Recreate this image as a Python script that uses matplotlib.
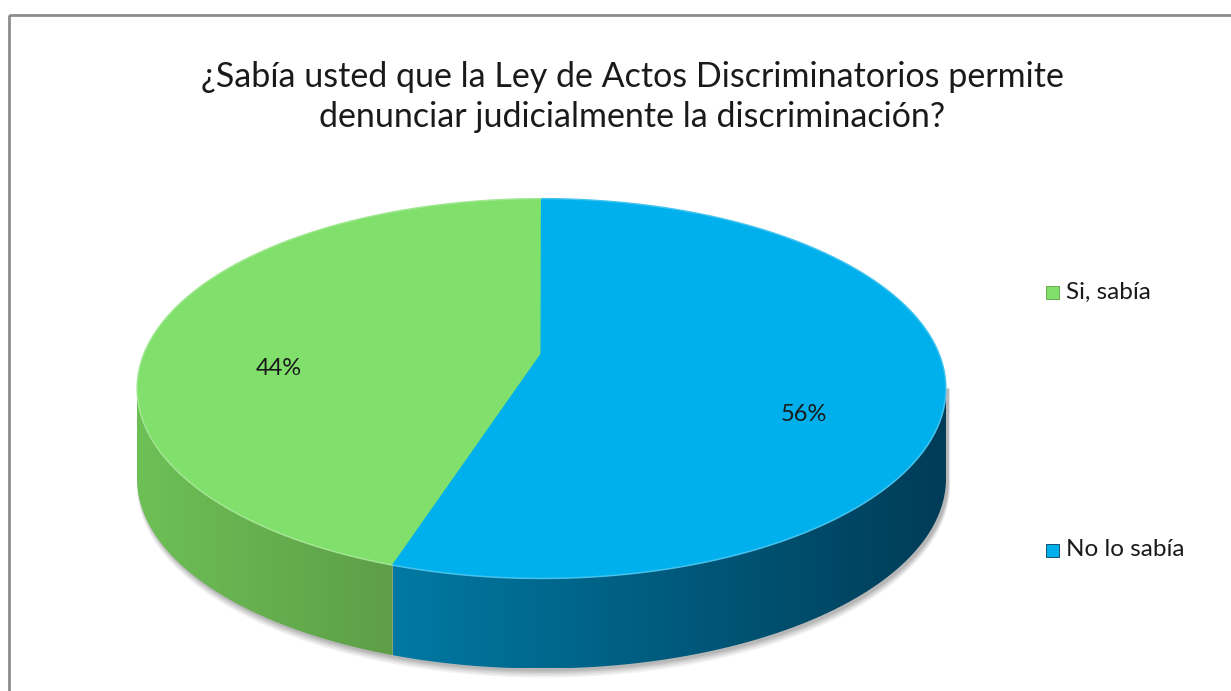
import numpy as np
import matplotlib
matplotlib.use("Agg")
import matplotlib.pyplot as plt
from matplotlib.patches import Polygon, Rectangle
from matplotlib.colors import LinearSegmentedColormap

# ---- data ----
categories = ["Si, sabía", "No lo sabía"]
values = [44, 56]
pct_labels = ["44%", "56%"]
title = "¿Sabía usted que la Ley de Actos Discriminatorios permite\ndenunciar judicialmente la discriminación?"

# ---- style ----
top_colors = ["#80E06B", "#00B0EC"]
side_grad = [["#6DC056", "#5E9E48"], ["#0079A3", "#003C57"]]
FONT = "Lato"

W, H = 1231, 691
fig = plt.figure(figsize=(W / 100, H / 100), dpi=100)
ax = fig.add_axes([0, 0, 1, 1])
ax.set_xlim(0, W)
ax.set_ylim(H, 0)
ax.axis("off")

# frame
ax.add_patch(Rectangle((9, 15), 1300, 800, fill=False, edgecolor="#8C8C8C", lw=2, zorder=0))

cx, cy, a, b, depth = 541.5, 388.5, 404.5, 190.0, 90.0
apex = (541.0, 354.0)   # perspective-shifted centre of top face

def pt(t, r=1.0, dz=0.0):
    return cx + r * a * np.cos(t), cy - r * b * np.sin(t) + dz

total = float(sum(values))
start = 90.0
angles = []
for v in values:
    ext = 360.0 * v / total
    angles.append((start, start + ext))
    start += ext

# shadow below the pie
tt = np.radians(np.linspace(180, 360, 200))
for k, alpha in enumerate([0.05, 0.05, 0.06, 0.07, 0.08]):
    off = 7 - k * 1.2
    xs = cx + (a + off * 0.3) * np.cos(tt) + 2
    ys = cy - (b + off * 0.3) * np.sin(tt) + depth + off
    poly = np.column_stack([np.r_[xs, xs[::-1]], np.r_[ys, ys[::-1] * 0 + cy]])
    ax.add_patch(Polygon(poly, closed=True, facecolor="black", alpha=alpha, lw=0, zorder=1))

# side walls with gradient
for i, (t0, t1) in enumerate(angles):
    segs = []
    for shift in (0, 360):
        lo = max(t0 - shift, 180)
        hi = min(t1 - shift, 360)
        if hi > lo:
            segs.append((lo, hi))
    for lo, hi in segs:
        ts = np.radians(np.linspace(lo, hi, 200))
        xs, ys = pt(ts)
        top = np.column_stack([xs, ys])
        bot = np.column_stack([xs[::-1], ys[::-1] + depth])
        verts = np.vstack([top, bot])
        poly = Polygon(verts, closed=True, facecolor="none", lw=0, zorder=2)
        ax.add_patch(poly)
        cmap = LinearSegmentedColormap.from_list("g%d" % i, side_grad[i])
        x0, x1 = xs.min(), xs.max()
        grad = np.linspace(0, 1, 256)[None, :]
        im = ax.imshow(grad, cmap=cmap, extent=(x0, x1, ys.max() + depth, ys.min()),
                       aspect="auto", zorder=2, interpolation="bilinear")
        im.set_clip_path(poly)

ax.set_xlim(0, W)
ax.set_ylim(H, 0)

# top faces
for i, (t0, t1) in enumerate(angles):
    ts = np.radians(np.linspace(t0, t1, 300))
    xs, ys = pt(ts)
    verts = np.vstack([apex, np.column_stack([xs, ys])])
    ax.add_patch(Polygon(verts, closed=True, facecolor=top_colors[i],
                         edgecolor=top_colors[i], lw=0.8, zorder=3))
ts = np.radians(np.linspace(90, 450, 400))
xs, ys = pt(ts)
ax.plot(xs, ys, color="white", alpha=0.25, lw=1.2, zorder=4)

# percentage labels
for i, (t0, t1) in enumerate(angles):
    tm = np.radians((t0 + t1) / 2)
    x, y = pt(tm, 0.66)
    ax.text(x, y + 3, pct_labels[i], ha="center", va="center", fontsize=17,
            family=FONT, color="#1a1a1a", zorder=5)

# title
ax.text(632, 97, title, ha="center", va="center", fontsize=24.5, family=FONT,
        color="#1a1a1a", linespacing=1.3)

# legend
leg_y = [292, 550]
for i, cat in enumerate(categories):
    ax.add_patch(Rectangle((1046, leg_y[i] - 6.5), 13, 13, facecolor=top_colors[i],
                           edgecolor=side_grad[i][1], lw=0.6, zorder=5))
    ax.text(1066, leg_y[i], cat, ha="left", va="center", fontsize=17.5,
            family=FONT, color="#1a1a1a")

fig.savefig("out.png", dpi=100)
